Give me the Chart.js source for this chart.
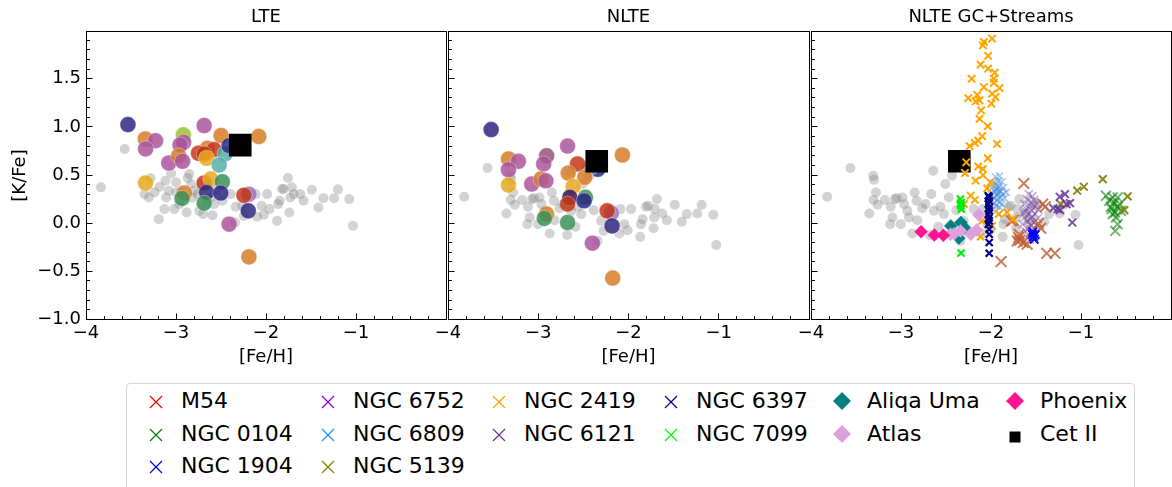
<!DOCTYPE html>
<html>
<head>
<meta charset="utf-8">
<title>[K/Fe] vs [Fe/H]</title>
<script src="https://cdn.jsdelivr.net/npm/chart.js"></script>
<style>
  html, body { margin: 0; padding: 0; background: #fff; }
  #page { position: relative; width: 1172px; height: 487px; overflow: hidden; font-family: 'DejaVu Sans', sans-serif; }
  #page canvas { position: absolute; top: 0; }
  #legend { position: absolute; left: 126px; top: 383px; width: 1009px; height: 130px; box-sizing: border-box;
            border: 1px solid #d6d6d6; border-radius: 4px; background: #fff; }
  .mark { position: absolute; }
  .name { position: absolute; white-space: nowrap; font-size: 22px; line-height: 28px; color: #000; }
</style>
</head>
<body>
<div id="page">
  <div id="legend"></div>
  <canvas id="lteChart" width="449" height="370" style="left:0"></canvas>
  <canvas id="nlteChart" width="394" height="370" style="left:418px"></canvas>
  <canvas id="gcChart" width="393" height="370" style="left:781px"></canvas>
</div>
<script>
// [Fe/H], [K/Fe] pairs

// halo field stars
const lteField = [[-3.834,0.372],[-3.570,0.771],[-3.349,0.302],[-3.301,0.267],[-3.283,0.469],[-3.238,0.319],[-3.183,0.378],[-3.191,0.042],[-3.128,0.146],[-3.117,0.441],[-3.110,0.267],[-3.080,0.337],[-3.054,0.517],[-3.018,0.146],[-2.999,0.424],[-2.999,0.319],[-2.962,0.198],[-2.944,0.337],[-2.882,0.111],[-2.871,0.469],[-2.852,0.51],[-2.834,0.406],[-2.816,0.267],[-2.797,0.337],[-2.760,0.302],[-2.742,0.128],[-2.723,0.406],[-2.698,0.094],[-2.668,0.198],[-2.613,0.267],[-2.595,0.083],[-2.576,0.198],[-2.558,0.337],[-2.484,0.233],[-2.392,0.302],[-2.337,0.170],[-2.344,0.007],[-2.264,0.181],[-2.245,0.076],[-2.227,0.302],[-2.116,0.302],[-2.098,0.066],[-2.050,0.181],[-2.024,0.087],[-1.988,0.302],[-1.962,0.146],[-1.877,0.024],[-1.866,0.198],[-1.848,0.233],[-1.822,0.354],[-1.804,0.354],[-1.756,0.469],[-1.741,0.111],[-1.730,0.267],[-1.712,0.372],[-1.693,0.302],[-1.620,0.302],[-1.583,0.233],[-1.491,0.347],[-1.417,0.163],[-1.362,0.260],[-1.244,0.260],[-1.200,0.351],[-1.075,0.25],[-1.034,-0.028]];
const nlteField = [[-3.820,0.274],[-3.562,0.573],[-3.352,0.101],[-3.305,0.240],[-3.279,0.319],[-3.260,0.191],[-3.180,0.240],[-3.120,-0.010],[-3.114,0.170],[-3.095,0.059],[-3.069,0.25],[-3.047,0.26],[-3.003,-0.010],[-2.985,0.267],[-2.966,0.198],[-2.929,0.128],[-2.911,0.059],[-2.874,-0.108],[-2.849,0.319],[-2.827,0.233],[-2.819,0.031],[-2.764,0.156],[-2.727,0.198],[-2.679,-0.122],[-2.664,0.302],[-2.635,0.128],[-2.587,-0.038],[-2.562,0.170],[-2.524,0.094],[-2.385,0.135],[-2.341,-0.184],[-2.304,0.024],[-2.275,-0.080],[-2.193,0.146],[-2.090,0.146],[-2.101,-0.108],[-2.046,-0.010],[-2.010,-0.073],[-1.972,0.146],[-1.870,-0.142],[-1.862,-0.010],[-1.844,0.042],[-1.807,0.170],[-1.781,0.181],[-1.723,-0.052],[-1.715,0.059],[-1.708,0.146],[-1.685,0.25],[-1.624,0.101],[-1.575,0.031],[-1.487,0.191],[-1.409,0.014],[-1.354,0.094],[-1.237,0.101],[-1.189,0.191],[-1.061,0.087],[-1.028,-0.226],[-2.642,0.545],[-2.507,0.406],[-2.433,0.493],[-2.469,0.267],[-3.308,0.493],[-3.300,0.45]];

// Cet II members, one tone per star
const lteStars = [[-3.534,1.024],[-3.341,0.875],[-3.227,0.857],[-3.338,0.771],[-2.918,0.917],[-2.915,0.84],[-2.955,0.812],[-2.687,1.014],[-2.499,0.91],[-2.08,0.90],[-3.08,0.625],[-2.97,0.70],[-2.927,0.643],[-2.65,0.778],[-2.75,0.726],[-2.577,0.764],[-2.687,0.719],[-2.66,0.674],[-2.455,0.719],[-2.52,0.604],[-2.41,0.805],[-3.338,0.417],[-2.907,0.3125],[-2.933,0.257],[-2.687,0.417],[-2.613,0.458],[-2.485,0.43],[-2.66,0.32],[-2.503,0.3125],[-2.687,0.208],[-2.19,0.30],[-2.245,0.29],[-2.197,0.128],[-2.41,-0.01],[-2.19,-0.35]];
const lteStarTone = ['indigo','orange','pink','pink','lime','pink','pink','pink','orange','orange','pink','orange','pink','orange','red','red','red','yellow','teal','teal','indigo','yellow','orange','green','red','yellow','green','indigo','indigo','green','lilac','red','indigo','pink','orange'];
const nlteStars = [[-3.522,0.972],[-3.33,0.667],[-3.22,0.643],[-3.33,0.555],[-2.907,0.70],[-2.94,0.615],[-2.675,0.80],[-2.068,0.708],[-2.34,0.56],[-2.42,0.58],[-3.33,0.396],[-3.073,0.406],[-2.97,0.458],[-2.915,0.44],[-2.565,0.615],[-2.668,0.52],[-2.485,0.476],[-2.613,0.382],[-2.65,0.268],[-2.675,0.198],[-2.477,0.268],[-2.492,0.232],[-2.907,0.094],[-2.933,0.049],[-2.675,0.007],[-2.19,0.104],[-2.237,0.128],[-2.182,-0.028],[-2.40,-0.208],[-2.175,-0.57]];
const nlteStarTone = ['indigo','orange','pink','pink','mauve','pink','pink','orange','indigo','teal','yellow','pink','orange','pink','red','orange','orange','yellow','grape','red','green','indigo','orange','green','green','lilac','red','indigo','pink','orange'];

// Cet II mean
const cetLte = [[-2.286,0.81]];
const cetNlte = [[-2.352,0.643]];

// globular clusters
const m54 = [[-1.635,0.413],[-1.752,0.031],[-1.774,0.024],[-1.679,-0.177],[-1.642,-0.201],[-1.598,-0.219],[-1.693,-0.149],[-1.709,-0.184],[-1.688,-0.115],[-1.425,0.198],[-1.398,0.17],[-1.472,-0.003],[-1.447,-0.052],[-1.381,-0.3125],[-1.289,-0.3125],[-1.888,-0.399]];
const ngc0104 = [[-0.722,0.285],[-0.648,0.267],[-0.593,0.267],[-0.630,0.215],[-0.685,0.233],[-0.667,0.170],[-0.593,0.170],[-0.556,0.128],[-0.648,0.094],[-0.611,0.059],[-0.593,-0.010],[-0.619,-0.080],[-0.567,0.198],[-0.659,0.146],[-0.622,0.11]];
const ngc1904 = [[-1.528,-0.139],[-1.54,-0.115],[-1.52,-0.167],[-1.535,-0.09],[-1.51,-0.12]];
const ngc6752 = [[-1.58,0.30],[-1.54,0.28],[-1.60,0.25],[-1.52,0.24],[-1.56,0.22],[-1.63,0.20],[-1.49,0.20],[-1.57,0.18],[-1.53,0.16],[-1.61,0.15],[-1.47,0.14],[-1.55,0.13],[-1.64,0.11],[-1.51,0.10],[-1.58,0.09],[-1.54,0.07],[-1.62,0.06],[-1.48,0.05],[-1.56,0.04],[-1.60,0.02],[-1.52,0.01],[-1.65,-0.01],[-1.55,-0.02],[-1.49,-0.03],[-1.58,-0.05],[-1.53,-0.07],[-1.62,-0.08],[-1.56,-0.10],[-1.50,-0.11],[-1.59,-0.13],[-1.54,-0.15],[-1.57,-0.17],[-1.61,0.12],[-1.53,0.19],[-1.57,-0.01]];
const ngc6809 = [[-1.95,0.48],[-1.906,0.49],[-1.92,0.44],[-1.97,0.42],[-1.88,0.43],[-1.94,0.40],[-1.91,0.38],[-1.99,0.37],[-1.86,0.37],[-1.93,0.35],[-1.96,0.33],[-1.89,0.33],[-1.92,0.31],[-2.00,0.30],[-1.87,0.30],[-1.94,0.28],[-1.90,0.27],[-1.97,0.26],[-1.85,0.26],[-1.93,0.24],[-1.91,0.22],[-1.96,0.21],[-1.88,0.20],[-1.94,0.18],[-1.90,0.16],[-2.03,0.27],[-1.83,0.32],[-1.95,0.36],[-1.91,0.34],[-1.93,0.29]];
const ngc5139 = [[-0.758,0.458],[-0.968,0.378],[-1.042,0.337],[-0.482,0.278],[-0.519,0.135],[-1.226,0.198]];
const ngc2419 = [[-1.988,1.917],[-2.079,1.882],[-2.090,1.847],[-2.032,1.736],[-2.116,1.646],[-2.032,1.604],[-2.215,1.5],[-1.958,1.5625],[-1.969,1.5],[-1.969,1.458],[-1.906,1.403],[-2.079,1.413],[-2.253,1.299],[-2.153,1.333],[-2.171,1.264],[-2.127,1.274],[-1.988,1.344],[-1.950,1.309],[-1.995,1.24],[-2.110,1.170],[-2.127,1.083],[-2.035,1.007],[-2.098,0.903],[-2.142,0.857],[-2.179,0.833],[-2.237,0.799],[-1.933,0.823],[-2.035,0.674],[-2.275,0.632],[-2.289,0.521],[-2.142,0.590],[-2.090,0.5625],[-2.090,0.5],[-2.171,0.441],[-2.006,0.424],[-2.043,0.361],[-2.226,0.285],[-2.179,0.243],[-2.300,0.198],[-1.914,0.094],[-1.822,0.111],[-2.098,0.024],[-1.988,-0.028],[-2.116,-0.139],[-1.756,0.042]];
const ngc6121 = [[-1.237,0.274],[-1.178,0.302],[-1.16,0.198],[-1.307,0.156],[-1.233,0.135],[-1.097,0.007],[-1.123,0.208],[-1.259,0.146]];
const ngc6397 = [[-2.03,0.285],[-2.02,0.27],[-2.02,0.233],[-2.03,0.198],[-2.02,0.163],[-2.02,0.128],[-2.03,0.094],[-2.02,0.059],[-2.02,0.024],[-2.03,-0.010],[-2.02,-0.0625],[-2.02,-0.115],[-2.02,-0.20],[-2.02,-0.3125]];
const ngc7099 = [[-2.34,0.25],[-2.33,0.215],[-2.335,0.18],[-2.33,0.146],[-2.34,0.20],[-2.333,-0.31]];

// stellar streams
const aliqaUma = [[-2.447,-0.028],[-2.335,0.007],[-2.357,-0.155],[-2.29,-0.05]];
const atlas = [[-2.135,0.085],[-2.16,-0.07],[-2.225,-0.115],[-2.34,-0.08],[-2.41,-0.11],[-2.45,-0.115]];
const phoenix = [[-2.777,-0.088],[-2.63,-0.123],[-2.53,-0.125]];

const xTicks = [-4, -3, -2, -1, 0];
const yTicks = [-1, -0.5, 0, 0.5, 1, 1.5];

const tones = {
  indigo: 'rgba(45,40,130,0.85)',
  orange: 'rgba(215,125,40,0.85)',
  pink: 'rgba(170,85,155,0.85)',
  red: 'rgba(195,55,25,0.85)',
  yellow: 'rgba(228,170,30,0.85)',
  green: 'rgba(60,145,90,0.85)',
  teal: 'rgba(85,175,170,0.85)',
  lime: 'rgba(155,195,55,0.85)',
  lilac: 'rgba(150,115,200,0.85)',
  grape: 'rgba(60,20,95,0.85)',
  mauve: 'rgba(150,85,120,0.85)'
};

Chart.defaults.font.family = "'DejaVu Sans', sans-serif";
Chart.defaults.font.size = 18;
Chart.defaults.color = '#000';

const toXY = pts => pts.map(([x, y]) => ({x, y}));
const fmt = (v, d) => (v < 0 ? '\u2212' : '') + Math.abs(v).toFixed(d);

// frame plus inward major/minor ticks on the bottom and left edges
const frameTicks = {
  id: 'frameTicks',
  afterDraw(chart) {
    const {ctx, chartArea: a, scales: {x, y}} = chart;
    const L = Math.floor(a.left) + 0.5, R = Math.floor(a.right) + 0.5;
    const T = Math.floor(a.top) + 0.5, B = Math.floor(a.bottom) + 0.5;
    ctx.save();
    ctx.strokeStyle = '#000';
    ctx.lineWidth = 1;
    ctx.strokeRect(L, T, R - L, B - T);
    ctx.beginPath();
    for (let i = 0; i <= 20; i++) {
      const v = -4 + i * 0.2;
      const px = Math.floor(x.getPixelForValue(v)) + 0.5;
      const len = xTicks.some(t => Math.abs(t - v) < 1e-6) ? 6 : 3.5;
      ctx.moveTo(px, B); ctx.lineTo(px, B - len);
    }
    for (let i = 0; i <= 29; i++) {
      const v = -1 + i * 0.1;
      const py = Math.floor(y.getPixelForValue(v)) + 0.5;
      const len = yTicks.some(t => Math.abs(t - v) < 1e-6) ? 6 : 3.5;
      ctx.moveTo(L, py); ctx.lineTo(L + len, py);
    }
    ctx.stroke();
    ctx.restore();
  }
};

function scatter(data, style) {
  return Object.assign({data: toXY(data), pointBorderWidth: 0, pointHoverRadius: style.pointRadius}, style);
}

function panel(id, title, datasets, showY, padLeft) {
  // first dataset ends up at the bottom
  datasets.forEach((d, i) => { d.order = datasets.length - i; });
  return new Chart(document.getElementById(id), {
    type: 'scatter',
    data: {datasets},
    options: {
      responsive: false,
      animation: false,
      devicePixelRatio: 1,
      events: [],
      layout: {autoPadding: false, padding: {left: padLeft, right: 1, top: 0, bottom: 0}},
      plugins: {
        legend: {display: false},
        tooltip: {enabled: false},
        title: {
          display: true, text: title, fullSize: false,
          font: {size: 18, weight: 'normal'},
          padding: {top: 6.5, bottom: 3.4}
        }
      },
      scales: {
        x: {
          type: 'linear', min: -4, max: 0,
          afterBuildTicks: s => { s.ticks = xTicks.map(v => ({value: v})); },
          afterFit: s => { s.height = 50.5; },
          grid: {display: false, drawTicks: false},
          border: {display: false},
          ticks: {padding: 3, maxRotation: 0, autoSkip: false, callback: v => v === 0 ? '' : fmt(v, 0)},
          title: {display: true, text: '[Fe/H]', padding: {top: 0, bottom: 2.2}}
        },
        y: {
          type: 'linear', min: -1, max: 1.99, display: showY,
          afterBuildTicks: s => { s.ticks = yTicks.map(v => ({value: v})); },
          afterFit: s => { s.width = showY ? 86 : 0; },
          grid: {display: false, drawTicks: false},
          border: {display: false},
          ticks: {padding: 5, callback: v => fmt(v, 1)},
          title: {display: true, text: '[K/Fe]', font: {lineHeight: 1}, padding: {top: 11, bottom: 0}}
        }
      }
    },
    plugins: [frameTicks]
  });
}

const fieldStyle = {pointRadius: 5, pointBackgroundColor: 'rgba(128,128,128,0.35)'};
const cetStyle = {pointStyle: 'rect', pointRadius: 16, pointBackgroundColor: '#000'};
const starStyle = fills => ({pointRadius: 8, pointBackgroundColor: fills,
  pointBorderColor: 'rgba(255,255,255,0.45)', pointBorderWidth: 0.8});
const cross = (color, r, w) => ({pointStyle: 'crossRot', pointRadius: r, pointBorderColor: color, pointBorderWidth: w});
const diamond = color => ({pointStyle: 'rectRot', pointRadius: 6.5, pointBackgroundColor: color,
  pointBorderColor: color, pointBorderWidth: 0.5});

panel('lteChart', 'LTE', [
  scatter(lteField, fieldStyle),
  scatter(lteStars, starStyle(lteStarTone.map(t => tones[t]))),
  scatter(cetLte, cetStyle)
], true, 0);

panel('nlteChart', 'NLTE', [
  scatter(nlteField, fieldStyle),
  scatter(nlteStars, starStyle(nlteStarTone.map(t => tones[t]))),
  scatter(cetNlte, cetStyle)
], false, 30);

panel('gcChart', 'NLTE GC+Streams', [
  scatter(nlteField, fieldStyle),
  scatter(cetNlte, cetStyle),
  scatter(ngc6809, cross('rgba(60,135,215,0.45)', 5, 1.6)),
  scatter(ngc6752, cross('rgba(115,65,155,0.42)', 5.8, 1.6)),
  scatter(ngc0104, cross('rgba(0,128,0,0.55)', 7, 2)),
  scatter(ngc5139, cross('rgba(128,128,0,0.9)', 5.5, 2)),
  scatter(ngc6121, cross('rgba(102,51,153,0.85)', 5.5, 2)),
  scatter(m54, cross('rgba(190,90,45,0.8)', 7.5, 2)),
  scatter(ngc1904, cross('#0000ff', 6, 2)),
  scatter(ngc2419, cross('#ffa500', 5.2, 2)),
  scatter(ngc6397, cross('#000080', 5, 2.2)),
  scatter(ngc7099, cross('#00ee00', 5, 2.2)),
  scatter(aliqaUma, diamond('#008080')),
  scatter(atlas, diamond('#dda0dd')),
  scatter(phoenix, diamond('#ff1493'))
], false, 30);

// legend, filled column by column
const legendEntries = [
  ['M54', 'red', 'x'], ['NGC 0104', 'green', 'x'], ['NGC 1904', 'blue', 'x'],
  ['NGC 6752', 'darkviolet', 'x'], ['NGC 6809', 'dodgerblue', 'x'], ['NGC 5139', 'olive', 'x'],
  ['NGC 2419', 'orange', 'x'], ['NGC 6121', 'rebeccapurple', 'x'],
  ['NGC 6397', 'navy', 'x'], ['NGC 7099', 'lime', 'x'],
  ['Aliqa Uma', 'teal', 'D'], ['Atlas', 'plum', 'D'],
  ['Phoenix', 'deeppink', 'D'], ['Cet II', 'black', 's']
];
const colSizes = [3, 3, 2, 2, 2, 2];
const colX = [156, 328, 499, 671, 842, 1015];
const rowY = [401, 434, 466];

function markerSvg(color, shape) {
  if (shape === 'x') {
    return [14, `<path d="M1,1L13,13M13,1L1,13" stroke="${color}" stroke-width="1.2" fill="none"/>`];
  }
  if (shape === 'D') {
    return [20, `<polygon points="10,1 19,10 10,19 1,10" fill="${color}"/>`];
  }
  return [12, `<rect x="0.5" y="0.5" width="11" height="11" fill="${color}"/>`];
}

const page = document.getElementById('page');
let k = 0;
colSizes.forEach((n, c) => {
  for (let r = 0; r < n; r++, k++) {
    const [name, color, shape] = legendEntries[k];
    const [s, body] = markerSvg(color, shape);
    const mark = document.createElement('div');
    mark.className = 'mark';
    mark.style.left = (colX[c] - s / 2) + 'px';
    mark.style.top = (rowY[r] - s / 2) + 'px';
    mark.innerHTML = `<svg width="${s}" height="${s}" viewBox="0 0 ${s} ${s}">${body}</svg>`;
    const label = document.createElement('div');
    label.className = 'name';
    label.textContent = name;
    label.style.left = (colX[c] + 25) + 'px';
    label.style.top = (rowY[r] - 14) + 'px';
    page.appendChild(mark);
    page.appendChild(label);
  }
});
</script>
</body>
</html>
